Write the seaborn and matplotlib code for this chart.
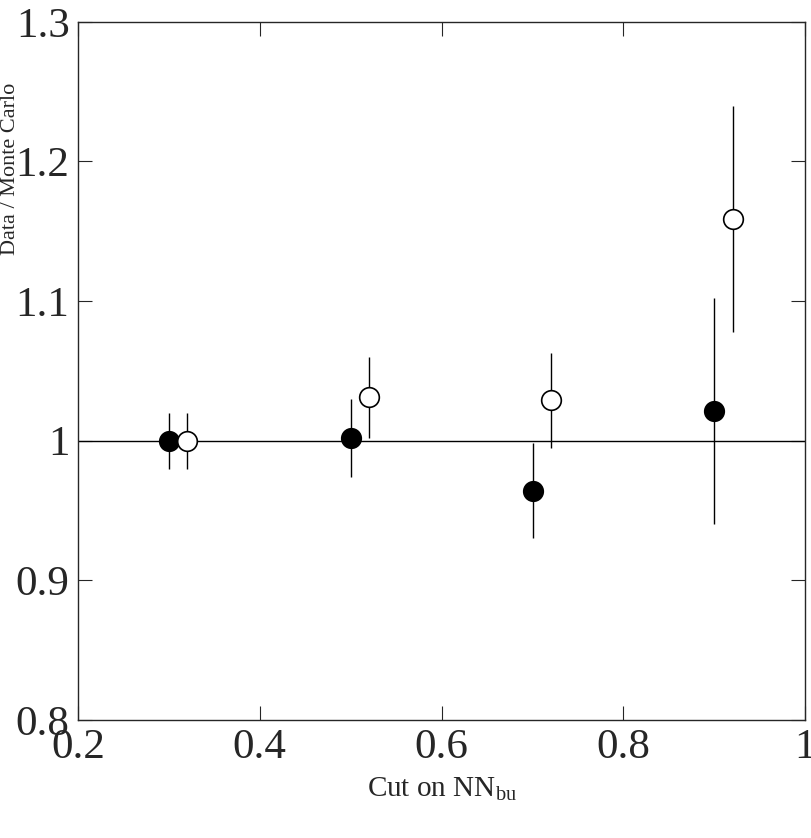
import matplotlib
matplotlib.use("Agg")
import matplotlib.pyplot as plt
import seaborn as sns

sns.set_style("ticks")
plt.rcParams['font.family'] = ['Liberation Serif', 'DejaVu Serif']
plt.rcParams['mathtext.fontset'] = 'custom'
plt.rcParams['mathtext.rm'] = 'Liberation Serif'

x_filled = [0.3, 0.5, 0.7, 0.9]
y_filled = [1.000, 1.002, 0.964, 1.021]
err_filled = [0.020, 0.028, 0.034, 0.081]
x_open = [0.32, 0.52, 0.72, 0.92]
y_open = [1.000, 1.031, 1.029, 1.159]
err_open = [0.020, 0.029, 0.034, 0.081]

fig, ax = plt.subplots(figsize=(8.11, 8.38), dpi=100)
fig.subplots_adjust(left=0.096, right=0.993, top=0.974, bottom=0.141)

ax.axhline(1.0, color='black', lw=1)
ax.errorbar(x_filled, y_filled, yerr=err_filled, fmt='none', ecolor='black', elinewidth=1)
ax.errorbar(x_open, y_open, yerr=err_open, fmt='none', ecolor='black', elinewidth=1)
sns.scatterplot(x=x_filled, y=y_filled, ax=ax, color='black', edgecolor='black', s=200, zorder=3)
sns.scatterplot(x=x_open, y=y_open, ax=ax, color='white', edgecolor='black', linewidth=1.2, s=200, zorder=3)

ax.set_xlim(0.2, 1.0)
ax.set_ylim(0.8, 1.3)
ax.set_xticks([0.2, 0.4, 0.6, 0.8, 1.0])
ax.set_xticklabels(['0.2', '0.4', '0.6', '0.8', '1'])
ax.set_yticks([0.8, 0.9, 1.0, 1.1, 1.2, 1.3])
ax.set_yticklabels(['0.8', '0.9', '1', '1.1', '1.2', '1.3'])
ax.tick_params(direction='in', labelsize=31, length=10, top=True, right=True, pad=6)
for s in ax.spines.values():
    s.set_linewidth(1)
ax.set_xlabel(r'Cut on NN$_{\mathrm{bu}}$', fontsize=21, labelpad=6)
ax.set_ylabel('Data / Monte Carlo', fontsize=16)
ax.yaxis.set_label_coords(-0.08, 0.79)
fig.savefig('out.png')
